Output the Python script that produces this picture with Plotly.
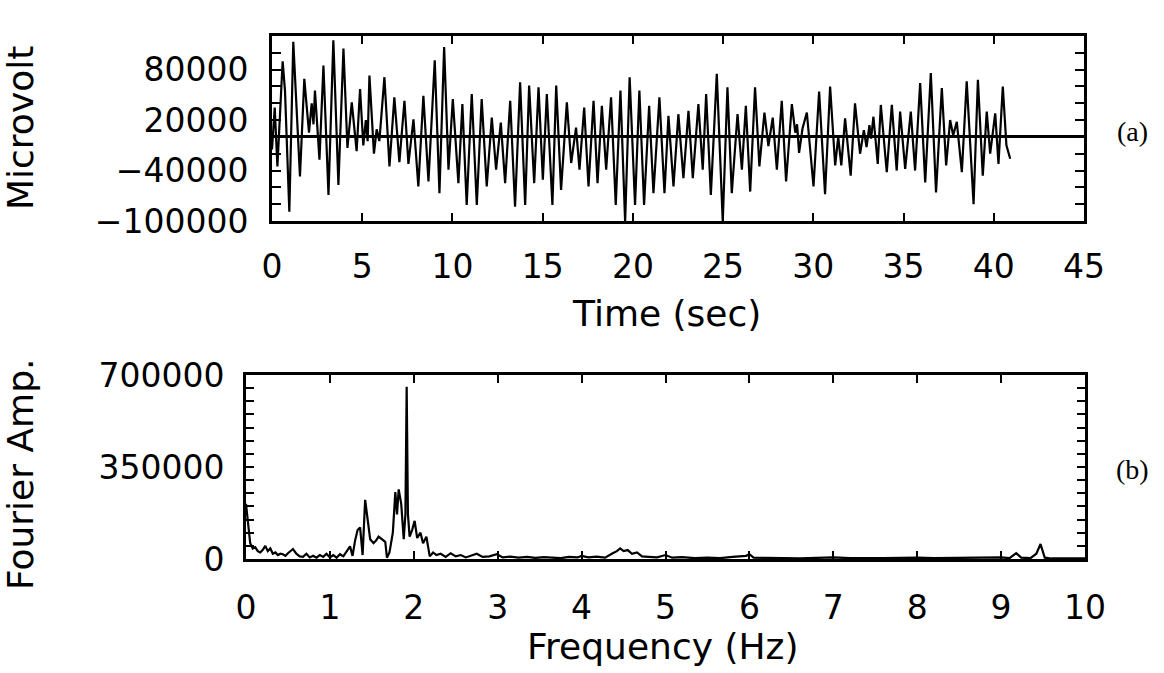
import plotly.graph_objects as go

# ---------------- data ----------------
time_s = [0.00, 0.15, 0.30, 0.59, 0.72, 0.96, 1.18, 1.55, 1.79, 2.05, 2.20, 2.30, 2.38, 2.63, 2.85,
          3.13, 3.40, 3.68, 3.96, 4.18, 4.42, 4.69, 4.88, 5.06, 5.20, 5.30, 5.40, 5.65, 5.80, 5.95,
          6.23, 6.51, 6.78, 7.06, 7.34, 7.56, 7.84, 8.11, 8.39, 8.67, 9.02, 9.28, 9.54, 9.78, 10.02,
          10.33, 10.55, 10.79, 11.07, 11.35, 11.62, 11.90, 12.18, 12.42, 12.68, 12.92, 13.20, 13.47,
          13.75, 14.03, 14.25, 14.53, 14.77, 15.01, 15.23, 15.54, 15.75, 16.02, 16.34, 16.58, 16.85,
          17.04, 17.30, 17.54, 17.82, 18.04, 18.28, 18.52, 18.79, 19.05, 19.31, 19.57, 19.82, 20.12,
          20.36, 20.62, 20.90, 21.14, 21.47, 21.75, 21.97, 22.25, 22.52, 22.80, 23.08, 23.32, 23.63,
          23.87, 24.06, 24.32, 24.65, 24.98, 25.24, 25.48, 25.80, 26.04, 26.26, 26.50, 26.77, 27.01,
          27.29, 27.51, 27.75, 27.98, 28.25, 28.49, 28.81, 29.00, 29.10, 29.21, 29.40, 29.64, 30.01,
          30.32, 30.65, 30.93, 31.21, 31.38, 31.55, 31.76, 32.07, 32.31, 32.59, 32.80, 32.95, 33.11,
          33.20, 33.33, 33.57, 33.74, 34.07, 34.35, 34.62, 34.81, 35.09, 35.40, 35.64, 35.92, 36.20,
          36.51, 36.80, 37.12, 37.36, 37.58, 37.75, 37.95, 38.23, 38.50, 38.88, 39.12, 39.39, 39.61,
          39.80, 40.08, 40.26, 40.50, 40.70, 40.91]
microvolt = [-15000, 35000, -35000, 90000, 55000, -89000, 113000, -47000, 69000, 5000, 40000, 15000,
             55000, -27000, 85000, -69000, 115000, -57000, 105000, -13000, 41000, -17000, 57000,
             -10000, 20000, -5000, 73000, -20000, 9000, -5000, 71000, -35000, 47000, -30000, 43000,
             -32000, 21000, -59000, 49000, -53000, 91000, -67000, 107000, -39000, 45000, -55000,
             39000, -81000, 51000, -81000, 45000, -59000, 23000, -39000, 17000, -55000, 43000,
             -83000, 65000, -81000, 61000, -55000, 59000, -51000, 51000, -81000, 61000, -63000,
             41000, -31000, 11000, -39000, 35000, -59000, 43000, -55000, 37000, -39000, 47000,
             -81000, 55000, -101000, 71000, -81000, 55000, -81000, 37000, -67000, 47000, -67000,
             25000, -59000, 27000, -49000, 31000, -49000, 39000, -39000, 51000, -69000, 75000,
             -101000, 59000, -67000, 27000, -39000, 37000, -65000, 59000, -35000, 29000, -11000,
             23000, -39000, 43000, -53000, 39000, 5000, 15000, -19000, 10000, 29000, -59000, 54000,
             -68000, 60000, -34000, 0, -34000, 22000, -46000, 40000, -20000, 8000, -12000, 14000,
             -2000, 24000, -32000, 38000, -42000, 38000, -40000, 30000, -38000, 30000, -40000,
             64000, -54000, 76000, -66000, 58000, -34000, 20000, 2000, 18000, -42000, 66000,
             -80000, 68000, -46000, 30000, -20000, 28000, -32000, 60000, -10000, -26000]

freq_hz = [0.00, 0.02, 0.05, 0.08, 0.11, 0.14, 0.17, 0.20, 0.23, 0.26, 0.29, 0.32, 0.35, 0.38, 0.41,
           0.44, 0.47, 0.50, 0.53, 0.56, 0.60, 0.64, 0.68, 0.72, 0.76, 0.80, 0.84, 0.88, 0.92, 0.96,
           1.00, 1.04, 1.08, 1.12, 1.16, 1.20, 1.24, 1.27, 1.30, 1.33, 1.36, 1.39, 1.42, 1.45, 1.48,
           1.52, 1.55, 1.58, 1.62, 1.66, 1.68, 1.71, 1.75, 1.78, 1.80, 1.82, 1.85, 1.88, 1.90, 1.915,
           1.93, 1.95, 1.98, 2.01, 2.04, 2.08, 2.11, 2.15, 2.19, 2.23, 2.27, 2.32, 2.38, 2.44, 2.50,
           2.56, 2.62, 2.68, 2.75, 2.82, 2.90, 2.99, 3.06, 3.15, 3.25, 3.35, 3.45, 3.55, 3.65, 3.75,
           3.85, 3.95, 4.00, 4.08, 4.18, 4.28, 4.36, 4.42, 4.46, 4.50, 4.55, 4.60, 4.66, 4.72, 4.80,
           4.90, 5.00, 5.08, 5.20, 5.35, 5.50, 5.65, 5.80, 5.90, 5.96, 6.00, 6.05, 6.20, 6.40, 6.60,
           6.80, 7.00, 7.20, 7.40, 7.60, 7.80, 8.00, 8.20, 8.40, 8.60, 8.80, 9.00, 9.10, 9.18, 9.24,
           9.35, 9.42, 9.47, 9.52, 9.60, 9.80, 10.00]
fourier_amp = [210000, 150000, 60000, 40000, 45000, 30000, 25000, 35000, 50000, 30000, 40000, 20000,
               25000, 15000, 20000, 18000, 12000, 22000, 30000, 38000, 20000, 10000, 8000, 20000,
               6000, 12000, 5000, 15000, 8000, 20000, 6000, 15000, 5000, 18000, 10000, 30000, 48000,
               12000, 70000, 110000, 120000, 15000, 225000, 150000, 75000, 60000, 70000, 85000,
               75000, 65000, 5000, 25000, 100000, 255000, 170000, 265000, 210000, 75000, 170000,
               655000, 170000, 85000, 110000, 145000, 80000, 100000, 60000, 85000, 10000, 25000,
               15000, 20000, 8000, 22000, 10000, 15000, 6000, 12000, 20000, 8000, 10000, 18000, 6000,
               9000, 5000, 8000, 4000, 7000, 5000, 3000, 8000, 6000, 12000, 6000, 9000, 5000, 20000,
               30000, 40000, 30000, 34000, 20000, 25000, 10000, 8000, 6000, 15000, 5000, 7000, 3000,
               5000, 3000, 8000, 10000, 12000, 18000, 5000, 4000, 3000, 2000, 4000, 6000, 3000, 2000,
               3000, 4000, 5000, 3000, 4000, 5000, 4000, 6000, 3000, 22000, 5000, 3000, 20000, 57000,
               5000, 2000, 2000, 2000]

time_ticks = [0, 5, 10, 15, 20, 25, 30, 35, 40, 45]
volt_tickvals = [80000, 20000, -40000, -100000]
volt_ticktext = ["80000", "20000", "\u221240000", "\u2212100000"]
volt_minor = [-100000, -80000, -60000, -40000, -20000, 0, 20000, 40000, 60000, 80000, 100000, 120000]
freq_ticks = [0, 1, 2, 3, 4, 5, 6, 7, 8, 9, 10]
amp_tickvals = [0, 350000, 700000]
amp_ticktext = ["0", "350000", "700000"]
amp_minor = [50000 * k for k in range(15)]

# ---------------- figure ----------------
W, H = 1164, 673
def px_x(p): return p / W
def px_y(p): return 1 - p / H

FONT = "DejaVu Sans"
tickfont = dict(family=FONT, size=33, color="black")

fig = go.Figure()
fig.add_trace(go.Scatter(x=time_s, y=microvolt, mode="lines",
                         line=dict(color="black", width=2.2), xaxis="x", yaxis="y",
                         showlegend=False, hoverinfo="skip"))
fig.add_trace(go.Scatter(x=freq_hz, y=fourier_amp, mode="lines",
                         line=dict(color="black", width=2.2), xaxis="x2", yaxis="y2",
                         showlegend=False, hoverinfo="skip"))

axis_common = dict(showline=True, linewidth=3, linecolor="black", mirror="allticks",
                   ticks="inside", tickcolor="black", tickwidth=2, showgrid=False,
                   tickfont=tickfont, automargin=False)

fig.update_layout(
    template="none",
    width=W, height=H, margin=dict(l=0, r=0, t=0, b=0, pad=0),
    paper_bgcolor="white", plot_bgcolor="white",
    xaxis=dict(domain=[px_x(272), px_x(1084)], range=[0, 45], tickmode="array",
               tickvals=time_ticks, ticktext=[str(v) for v in time_ticks], ticklen=8,
               ticklabelstandoff=14, zeroline=False, anchor="y", **axis_common),
    yaxis=dict(domain=[px_y(221), px_y(36)], range=[-100000, 120000], tickmode="array",
               tickvals=volt_tickvals, ticktext=volt_ticktext, ticklen=9,
               ticklabelstandoff=14,
               minor=dict(tickmode="array", tickvals=volt_minor, ticklen=9, tickwidth=2,
                          ticks="inside", tickcolor="black"),
               zeroline=True, zerolinecolor="black", zerolinewidth=2.5, anchor="x",
               **axis_common),
    xaxis2=dict(domain=[px_x(246), px_x(1085)], range=[0, 10], tickmode="array",
                tickvals=freq_ticks, ticktext=[str(v) for v in freq_ticks], ticklen=8,
                ticklabelstandoff=17, zeroline=False, anchor="y2", **axis_common),
    yaxis2=dict(domain=[px_y(559), px_y(375)], range=[0, 700000], tickmode="array",
                tickvals=amp_tickvals, ticktext=amp_ticktext, ticklen=8,
                ticklabelstandoff=12,
                minor=dict(tickmode="array", tickvals=amp_minor, ticklen=8, tickwidth=2,
                           ticks="inside", tickcolor="black"),
                zeroline=False, anchor="x2", **axis_common),
)

title_font = dict(family=FONT, size=36, color="black")
annotations = [
    dict(text="Time (sec)", x=px_x(666), y=px_y(313), xref="paper", yref="paper",
         showarrow=False, font=title_font, xanchor="center", yanchor="middle"),
    dict(text="Frequency (Hz)", x=px_x(662), y=px_y(646), xref="paper", yref="paper",
         showarrow=False, font=title_font, xanchor="center", yanchor="middle"),
    dict(text="Microvolt", x=px_x(20), y=px_y(128), xref="paper", yref="paper",
         showarrow=False, font=title_font, textangle=-90, xanchor="center", yanchor="middle"),
    dict(text="Fourier Amp.", x=px_x(20), y=px_y(475), xref="paper", yref="paper",
         showarrow=False, font=title_font, textangle=-90, xanchor="center", yanchor="middle"),
    dict(text="(a)", x=px_x(1132), y=px_y(132), xref="paper", yref="paper",
         showarrow=False, font=dict(family="Liberation Serif", size=28, color="black"),
         xanchor="center", yanchor="middle"),
    dict(text="(b)", x=px_x(1132), y=px_y(469), xref="paper", yref="paper",
         showarrow=False, font=dict(family="Liberation Serif", size=28, color="black"),
         xanchor="center", yanchor="middle"),
]
fig.update_layout(annotations=annotations)

fig.write_html("out.html", config={"displayModeBar": False},
               post_script="document.body.style.margin='0px';document.body.style.overflow='hidden';")
